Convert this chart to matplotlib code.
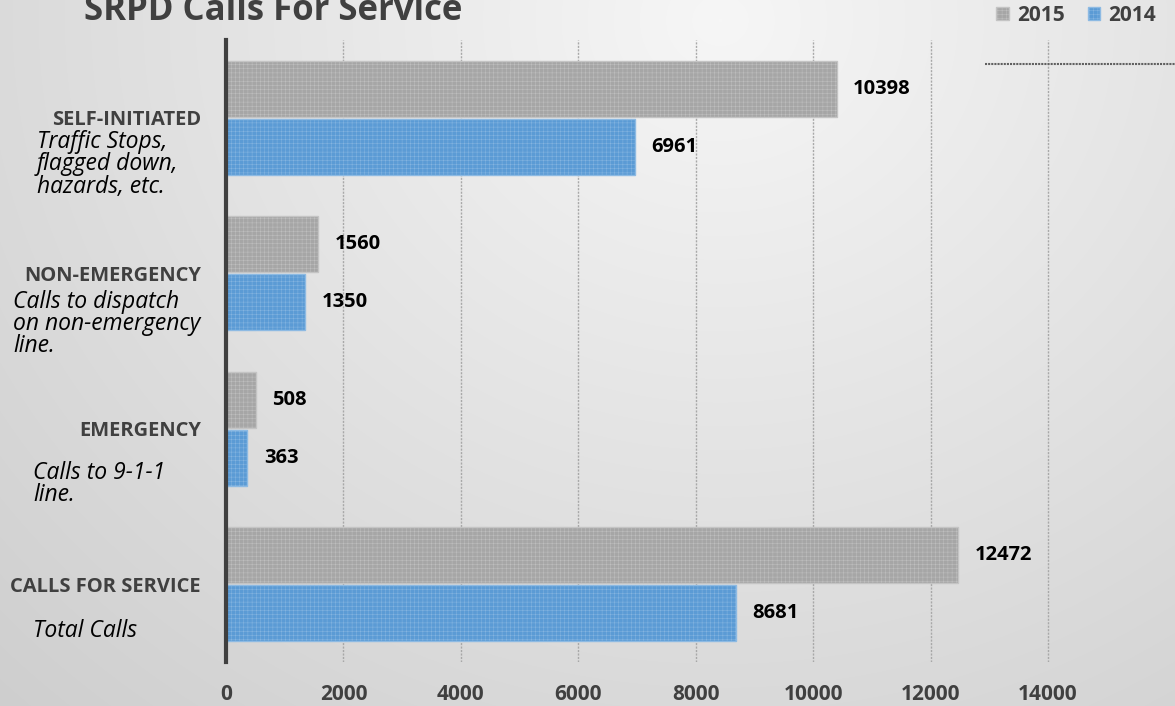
import numpy as np
import matplotlib
matplotlib.use("Agg")
import matplotlib.pyplot as plt
from matplotlib.patches import Patch
from matplotlib.lines import Line2D
from matplotlib.transforms import blended_transform_factory

plt.rcParams["font.family"] = ["Open Sans", "DejaVu Sans"]
plt.rcParams["hatch.linewidth"] = 0.3

# data (bottom to top)
categories = ["CALLS FOR SERVICE", "EMERGENCY", "NON-EMERGENCY", "SELF-INITIATED"]
descriptions = [
    "Total Calls",
    "Calls to 9-1-1\nline.",
    "Calls to dispatch\non non-emergency\nline.",
    "Traffic Stops,\nflagged down,\nhazards, etc.",
]
calls_2015 = [12472, 508, 1560, 10398]
calls_2014 = [8681, 363, 1350, 6961]
xticks = [0, 2000, 4000, 6000, 8000, 10000, 12000, 14000]

W, H = 1175, 706
fig = plt.figure(figsize=(W / 100, H / 100), dpi=100)

# gradient background
bg = fig.add_axes([0, 0, 1, 1], zorder=-5)
yy, xx = np.mgrid[0:H, 0:W]
dist = np.hypot(xx - 720, (yy - 20) * 1.1)
shade = np.clip(0.965 - 0.15 * dist / 1000, 0.8, 1)
bg.imshow(np.dstack([shade] * 3), aspect="auto", extent=[0, 1, 0, 1])
bg.axis("off")

ax = fig.add_axes([226 / W, 44 / H, 880.7 / W, 622 / H])
ax.patch.set_alpha(0)

y = np.arange(len(categories))
h = 0.36
gray, blue = "#a6a6a6", "#5b9bd5"
b15 = ax.barh(y + 0.186, calls_2015, height=h, color=gray, edgecolor="#c4c4c4",
              hatch="++++", linewidth=1, zorder=3)
b14 = ax.barh(y - 0.186, calls_2014, height=h, color=blue, edgecolor="#8dbae3",
              hatch="++++", linewidth=1, zorder=3)

for bars in (b15, b14):
    for bar in bars:
        w = bar.get_width()
        ax.annotate(f"{int(w)}", (w, bar.get_y() + bar.get_height() / 2),
                    xytext=(12, 0), textcoords="offset points",
                    va="center", ha="left", fontsize=14.5, fontweight="bold",
                    color="black")

ax.set_xlim(0, 15000)
ax.set_ylim(-0.5, 3.5)
ax.set_xticks(xticks)
ax.set_xticklabels([str(t) for t in xticks], fontsize=15, fontweight="bold",
                   color="#404040")
ax.tick_params(axis="x", length=0, pad=16)
ax.set_yticks(y)
ax.set_yticklabels(categories, fontsize=14.5, fontweight="bold", color="#404040")
ax.tick_params(axis="y", length=0, pad=18)
ax.grid(axis="x", linestyle=(0, (1.5, 1)), color="#a8a8a8", linewidth=1, zorder=0)
for s in ["top", "right", "bottom"]:
    ax.spines[s].set_visible(False)
ax.spines["left"].set_linewidth(3)
ax.spines["left"].set_color("#404040")
ax.spines["left"].set_zorder(4)

# italic descriptions under each heading
trans = blended_transform_factory(fig.transFigure, ax.transData)
desc_x = [33, 33, 13, 37]
desc_dy = [-25, -23, -12, -9]
for yi, text, dx, dy in zip(y, descriptions, desc_x, desc_dy):
    ax.annotate(text, (dx / W, yi), xycoords=trans, xytext=(0, dy),
                textcoords="offset points", ha="left", va="top",
                fontsize=16.5, fontstyle="italic", color="black",
                linespacing=0.9, annotation_clip=False)

fig.text(273 / W, 1 - 20 / H, "SRPD Calls For Service", ha="center",
         va="baseline", fontsize=25, fontweight="bold", color="#404040")

handles = [Patch(facecolor=gray, edgecolor="#c4c4c4", hatch="++++", label="2015"),
           Patch(facecolor=blue, edgecolor="#8dbae3", hatch="++++", label="2014")]
leg = fig.legend(handles=handles, loc="upper right", bbox_to_anchor=(1.0, 1.02),
                 ncol=2, frameon=False, handlelength=0.6, handleheight=0.6,
                 handletextpad=0.4, columnspacing=1.1,
                 prop={"size": 15, "weight": "bold"})
for t in leg.get_texts():
    t.set_color("#404040")

fig.add_artist(Line2D([985 / W, 1], [1 - 64 / H] * 2, transform=fig.transFigure,
                      color="#606060", linewidth=1.5, linestyle=(0, (1, 0.5))))

fig.savefig("out.png", dpi=100)
